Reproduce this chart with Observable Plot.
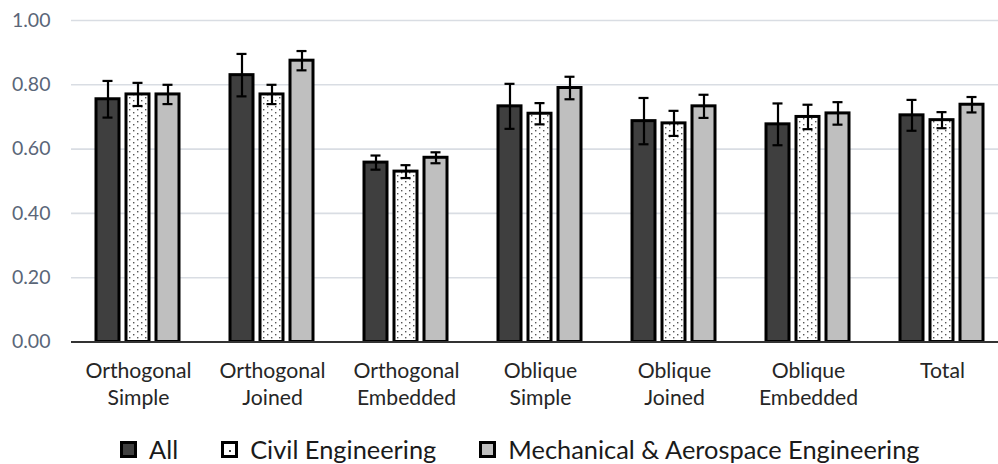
<!DOCTYPE html>
<html>
<head>
<meta charset="utf-8">
<script src="https://cdn.jsdelivr.net/npm/d3@7"></script>
<script src="https://cdn.jsdelivr.net/npm/@observablehq/plot@0.6"></script>
<style>
  html, body { margin: 0; padding: 0; background: #fff; }
  body { width: 998px; height: 464px; position: relative; overflow: hidden; font-family: Lato, "Open Sans", sans-serif; }
  #chart { position: absolute; left: 0; top: 0; }
  #legend { position: absolute; left: 120px; top: 435px; height: 28px; display: flex; align-items: center; gap: 43px; font-size: 25.4px; color: #1a1a1a; white-space: nowrap; }
  .item { display: flex; align-items: center; gap: 12px; }
  .sw { width: 11px; height: 11px; border: 3px solid #000; }
</style>
</head>
<body>
<svg width="0" height="0" style="position:absolute">
  <defs>
    <pattern id="dots" width="8" height="6" patternUnits="userSpaceOnUse">
      <rect width="8" height="6" fill="#fff"/>
      <rect x="1" y="1" width="1.4" height="1.4" fill="#555"/>
      <rect x="5" y="4" width="1.4" height="1.4" fill="#555"/>
    </pattern>
  </defs>
</svg>
<div id="chart"></div>
<div id="legend"></div>
<script>
const categories = ["Orthogonal\nSimple", "Orthogonal\nJoined", "Orthogonal\nEmbedded", "Oblique\nSimple", "Oblique\nJoined", "Oblique\nEmbedded", "Total"];
const series = ["All", "Civil Engineering", "Mechanical & Aerospace Engineering"];
const allMeans   = [0.755, 0.830, 0.558, 0.733, 0.687, 0.677, 0.705];
const allErr     = [0.057, 0.066, 0.022, 0.070, 0.072, 0.065, 0.048];
const civilMeans = [0.770, 0.770, 0.530, 0.710, 0.680, 0.700, 0.690];
const civilErr   = [0.036, 0.030, 0.020, 0.033, 0.039, 0.038, 0.025];
const mechMeans  = [0.770, 0.875, 0.573, 0.790, 0.733, 0.711, 0.738];
const mechErr    = [0.030, 0.030, 0.017, 0.035, 0.036, 0.035, 0.024];
const yTicks = [0, 0.2, 0.4, 0.6, 0.8, 1.0];
const seriesFills = ["#3f3f3f", "url(#dots)", "#bfbfbf"];

const means = [allMeans, civilMeans, mechMeans];
const errs = [allErr, civilErr, mechErr];
const data = [];
categories.forEach((c, i) => series.forEach((s, j) => {
  data.push({category: c, series: s, value: means[j][i], lo: means[j][i] - errs[j][i], hi: means[j][i] + errs[j][i]});
}));

const plot = Plot.plot({
  width: 998,
  height: 425,
  marginLeft: 71,
  marginRight: -11,
  marginTop: 20,
  marginBottom: 83.5,
  style: {fontFamily: "Lato, 'Open Sans', sans-serif", background: "#fff"},
  fx: {domain: categories, padding: 0, label: null, axis: null},
  x: {domain: series, paddingInner: 0.22, paddingOuter: 0.84, axis: null},
  y: {domain: [0, 1], label: null},
  color: {domain: series, range: seriesFills},
  marks: [
    Plot.ruleY(yTicks.filter(d => d > 0), {stroke: "#d9dde3", strokeWidth: 1.6}),
    Plot.axisY({ticks: yTicks, tickFormat: d => d.toFixed(2), tickSize: 0, tickPadding: 21, fontSize: 19.5, color: "#5a6678", label: null}),
    Plot.axisFx({anchor: "bottom", tickSize: 0, tickPadding: 17, fontSize: 21.2, lineHeight: 1.26, color: "#262626", label: null}),
    Plot.barY(data, {fx: "category", x: "series", y: "value", fill: "series", stroke: "#000", strokeWidth: 3}),
    Plot.ruleX(data, {fx: "category", x: "series", y1: "lo", y2: "hi", stroke: "#000", strokeWidth: 2.2}),
    Plot.tickY(data, {fx: "category", x: "series", y: "lo", stroke: "#000", strokeWidth: 2.2, insetLeft: 6.5, insetRight: 6.5}),
    Plot.tickY(data, {fx: "category", x: "series", y: "hi", stroke: "#000", strokeWidth: 2.2, insetLeft: 6.5, insetRight: 6.5}),
    Plot.ruleY([0], {stroke: "#333", strokeWidth: 2})
  ]
});
document.getElementById("chart").appendChild(plot);

const legend = document.getElementById("legend");
const swatchBg = ["#3f3f3f", "#fff", "#bfbfbf"];
series.forEach((s, i) => {
  const item = document.createElement("div");
  item.className = "item";
  const sw = document.createElement("div");
  sw.className = "sw";
  sw.style.background = swatchBg[i];
  if (i === 1) {
    sw.style.display = "flex"; sw.style.alignItems = "center"; sw.style.justifyContent = "center";
    const dot = document.createElement("div");
    dot.style.cssText = "width:2px;height:2px;background:#444;margin-top:3px;margin-left:1px";
    sw.appendChild(dot);
  }
  const label = document.createElement("span");
  label.textContent = s;
  item.appendChild(sw);
  item.appendChild(label);
  legend.appendChild(item);
});
</script>
</body>
</html>
